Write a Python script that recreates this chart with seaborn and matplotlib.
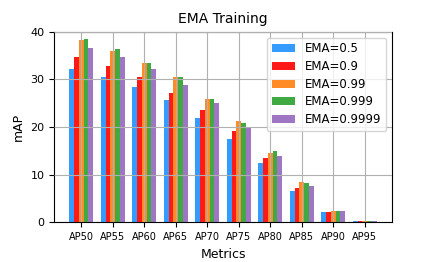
import numpy as np
import pandas as pd
import matplotlib
matplotlib.use('Agg')
import matplotlib.pyplot as plt
import seaborn as sns

# Values
metrics = ['AP50', 'AP55', 'AP60', 'AP65', 'AP70', 'AP75', 'AP80', 'AP85', 'AP90', 'AP95']
ema_labels = ['EMA=0.5', 'EMA=0.9', 'EMA=0.99', 'EMA=0.999', 'EMA=0.9999']
ema_05 = [32.1, 30.4, 28.5, 25.6, 22.0, 17.5, 12.4, 6.6, 2.1, 0.2]
ema_09 = [34.6, 32.8, 30.4, 27.2, 23.6, 19.1, 13.5, 7.2, 2.2, 0.2]
ema_099 = [38.2, 35.9, 33.5, 30.4, 25.9, 21.3, 14.6, 8.4, 2.5, 0.2]
ema_0999 = [38.4, 36.3, 33.5, 30.4, 25.9, 20.8, 14.9, 8.3, 2.4, 0.2]
ema_09999 = [36.6, 34.7, 32.1, 28.9, 25.0, 20.0, 14.0, 7.7, 2.3, 0.2]
colors = ['dodgerblue', 'red', 'tab:orange', 'tab:green', 'tab:purple']

# Long table for seaborn
series = [ema_05, ema_09, ema_099, ema_0999, ema_09999]
rows = []
for label, vals in zip(ema_labels, series):
    for m, v in zip(metrics, vals):
        rows.append({'Metrics': m, 'mAP': v, 'EMA': label})
df = pd.DataFrame(rows)

fig, ax = plt.subplots(figsize=(4.36, 2.62), dpi=100)
sns.barplot(data=df, x='Metrics', y='mAP', hue='EMA', order=metrics, hue_order=ema_labels,
            palette=colors, width=0.75, saturation=1, alpha=0.9, ax=ax)

ax.set_xlim(-0.8625, 9.8625)
ax.set_ylim(0, 40)
ax.set_yticks([0, 10, 20, 30, 40])
# grid sits on top of the bars like in the reference
ax.grid(True, color='#b0b0b0', linewidth=0.8)
ax.set_axisbelow(False)
for p in ax.patches:
    p.set_zorder(1)
ax.tick_params(axis='x', labelsize=7)
ax.tick_params(axis='y', labelsize=8)
ax.set_title('EMA Training', fontsize=10)
ax.set_xlabel('Metrics', fontsize=9)
ax.set_ylabel('mAP', fontsize=9)
ax.legend(loc='upper right', fontsize=8.5, title=None, labelspacing=0.4)

plt.subplots_adjust(left=0.124, right=0.899, top=0.879, bottom=0.151)
plt.savefig('out.png', dpi=100)
